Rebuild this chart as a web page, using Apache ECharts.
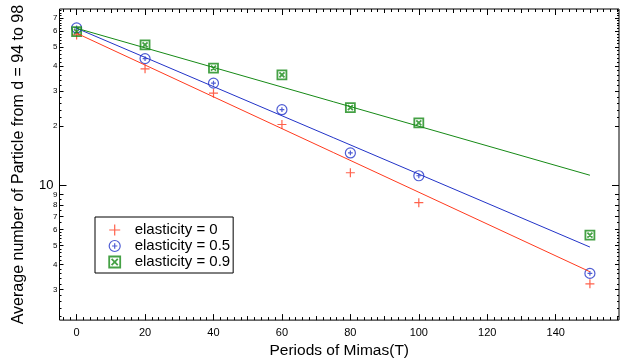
<!DOCTYPE html>
<html>
<head>
<meta charset="utf-8">
<script src="https://cdn.jsdelivr.net/npm/echarts@6/dist/echarts.min.js"></script>
<style>
  html, body { margin: 0; background: #fff; }
  #chart { width: 620px; height: 364px; }
</style>
</head>
<body>
<div id="chart"></div>
<script>
// data
const periods = [0, 20, 40, 60, 80, 100, 150];
const elastic0 = [57.4, 38.7, 29.2, 20.3, 11.6, 8.2, 3.2];
const elastic05 = [62.2, 43.6, 32.8, 24.1, 14.6, 11.2, 3.61];
const elastic09 = [59.6, 51.1, 39.0, 36.1, 24.7, 20.7, 5.63];

// fitted lines (end points)
const fitX = [0, 150];
const fit0 = [58.5, 3.68];
const fit05 = [62.0, 4.9];
const fit09 = [62.0, 11.27];

const seriesNames = ['elasticity = 0', 'elasticity = 0.5', 'elasticity = 0.9'];

// axis ticks
const xLabelTicks = [0, 20, 40, 60, 80, 100, 120, 140];
const xMidTicks = [10, 30, 50, 70, 90, 110, 130, 150];
const xMinorTicks = [];
for (let v = -4; v <= 158; v += 2) xMinorTicks.push(v);

const yLabelTicks = [3, 4, 5, 6, 7, 8, 9, 10, 20, 30, 40, 50, 60, 70];
const yMinorTicks = [2.2, 2.4, 2.6, 2.8, 3.2, 3.4, 3.6, 3.8, 4.2, 4.4, 4.6, 4.8, 5.2, 5.4, 5.6, 5.8,
  6.5, 7.5, 8.5, 22, 24, 26, 28, 32, 34, 36, 38, 42, 44, 46, 48, 52, 54, 56, 58, 62, 64, 66, 68, 72, 74, 76];

const X_MIN = -5, X_MAX = 158.5;
const Y_MIN = 2.1, Y_MAX = 77.5;

const colors = { red: '#ff3a1e', blue: '#2233c8', green: '#168a16' };
const symbols = {
  plus: 'path://M0,5L10,5M5,0L5,10',
  circlePlus: 'path://M0,5A5,5,0,1,1,10,5A5,5,0,1,1,0,5ZM5,2.6L5,7.4M2.6,5L7.4,5',
  boxX: 'path://M0,0L10,0L10,10L0,10ZM2.2,2.2L7.8,7.8M7.8,2.2L2.2,7.8'
};

const font = 'Liberation Sans, Arial, Helvetica, sans-serif';

function pairs(xs, ys) {
  return xs.map((x, i) => [x, ys[i]]);
}

function xAxisFor(position, ticks, length, withLabels) {
  return {
    type: 'value',
    position: position,
    min: X_MIN,
    max: X_MAX,
    axisLine: { show: false, onZero: false },
    splitLine: { show: false },
    axisTick: { show: true, inside: true, length: length, customValues: ticks, lineStyle: { color: '#000', width: 1 } },
    axisLabel: withLabels
      ? { show: true, customValues: ticks, color: '#000', fontSize: 11, fontFamily: font, margin: 7 }
      : { show: false }
  };
}

function yAxisFor(position, ticks, length, withLabels) {
  return {
    type: 'log',
    logBase: 10,
    position: position,
    min: Y_MIN,
    max: Y_MAX,
    axisLine: { show: false, onZero: false },
    splitLine: { show: false },
    axisTick: { show: true, inside: true, length: length, customValues: ticks, lineStyle: { color: '#000', width: 1 } },
    axisLabel: withLabels
      ? {
          show: true,
          customValues: ticks,
          margin: 2,
          formatter: (v) => {
            const r = Math.round(v);
            if (r === 10) return '{big|10}';
            return '{small|' + (r > 10 ? Math.round(r / 10) : r) + '}';
          },
          rich: {
            big: { fontSize: 13, fontFamily: font, color: '#000', padding: [0, 4, 0, 0] },
            small: { fontSize: 8, fontFamily: font, color: '#000' }
          }
        }
      : { show: false }
  };
}

const xAxes = [
  xAxisFor('bottom', xLabelTicks, 6, true),
  xAxisFor('bottom', xMidTicks, 4, false),
  xAxisFor('bottom', xMinorTicks, 3, false),
  xAxisFor('top', xLabelTicks, 6, false),
  xAxisFor('top', xMidTicks, 4, false),
  xAxisFor('top', xMinorTicks, 3, false)
];
Object.assign(xAxes[0], {
  name: 'Periods of Mimas(T)',
  nameLocation: 'middle',
  nameGap: 22,
  nameTextStyle: { fontSize: 15.5, fontFamily: font, color: '#000' }
});

const yAxes = [
  yAxisFor('left', yLabelTicks, 4, true),
  yAxisFor('left', [10], 7, false),
  yAxisFor('left', yMinorTicks, 2, false),
  yAxisFor('right', yLabelTicks, 4, false),
  yAxisFor('right', [10], 7, false),
  yAxisFor('right', yMinorTicks, 2, false)
];
Object.assign(yAxes[0], {
  name: 'Average number of Particle from d = 94 to 98',
  nameLocation: 'middle',
  nameGap: 33,
  nameTextStyle: { fontSize: 16, fontFamily: font, color: '#000' }
});

const markers = [
  { name: seriesNames[0], data: elastic0, fit: fit0, color: colors.red, symbol: symbols.plus, size: 9, width: 1.2 },
  { name: seriesNames[1], data: elastic05, fit: fit05, color: colors.blue, symbol: symbols.circlePlus, size: 10, width: 1.2 },
  { name: seriesNames[2], data: elastic09, fit: fit09, color: colors.green, symbol: symbols.boxX, size: 9, width: 1.8 }
];

const series = [];
markers.forEach((m) => {
  series.push({
    name: m.name + ' fit',
    type: 'line',
    data: pairs(fitX, m.fit),
    showSymbol: false,
    symbol: 'none',
    lineStyle: { color: m.color, width: 1 },
    silent: true,
    animation: false
  });
});
markers.forEach((m) => {
  series.push({
    name: m.name,
    type: 'scatter',
    data: pairs(periods, m.data),
    symbol: m.symbol,
    symbolSize: m.size,
    itemStyle: { color: 'none', borderColor: m.color, borderWidth: m.width },
    animation: false
  });
});

const chart = echarts.init(document.getElementById('chart'));
chart.setOption({
  backgroundColor: '#fff',
  animation: false,
  grid: {
    left: 59.5,
    right: 1,
    top: 9,
    bottom: 43,
    show: true,
    borderColor: '#000',
    borderWidth: 1,
    backgroundColor: 'transparent',
    containLabel: false
  },
  legend: {
    orient: 'vertical',
    left: 95,
    top: 217,
    padding: [5, 3, 3, 11.7],
    itemWidth: 12,
    itemHeight: 11,
    itemGap: 0,
    borderColor: '#000',
    borderWidth: 1,
    backgroundColor: '#fff',
    selectedMode: false,
    formatter: (name) => '{t|' + name + '}',
    textStyle: {
      fontSize: 15,
      fontFamily: font,
      color: '#000',
      rich: {
        t: { fontSize: 15, fontFamily: font, color: '#000', lineHeight: 17, padding: [0, 0, 0, 9] }
      }
    },
    data: markers.map((m) => ({
      name: m.name,
      icon: m.symbol,
      itemStyle: { color: 'none', borderColor: m.color, borderWidth: m.width }
    }))
  },
  xAxis: xAxes,
  yAxis: yAxes,
  series: series
});
</script>
</body>
</html>
